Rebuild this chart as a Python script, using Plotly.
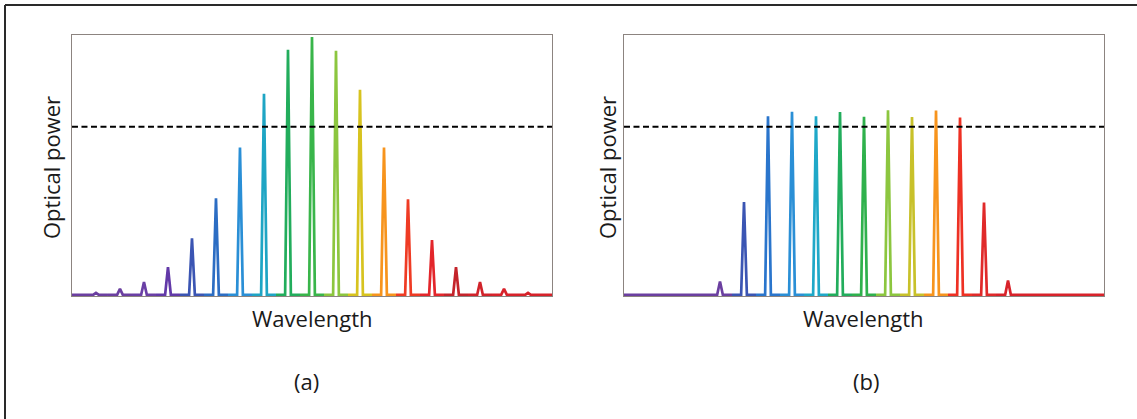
import plotly.graph_objects as go

# Channel index (grid slot) and peak optical power, relative units
left_channels = list(range(1, 20))
left_power = [0.008, 0.023, 0.05, 0.107, 0.218, 0.372, 0.567, 0.774, 0.943, 0.992,
              0.939, 0.789, 0.567, 0.368, 0.211, 0.107, 0.05, 0.023, 0.008]
left_colors = ["#6b3fa0", "#6b3fa0", "#6a3fa5", "#6239a8", "#3b55b3", "#2c6dc3",
               "#2a8fd6", "#1ea5c4", "#22ad5c", "#39b54a", "#8cc63f", "#d7c31f",
               "#f7941d", "#ef3b24", "#e3262b", "#c4242b", "#d1232a", "#d8222a",
               "#d6222a"]

right_channels = list(range(4, 17))
right_power = [0.052, 0.357, 0.687, 0.705, 0.687, 0.704, 0.685, 0.710, 0.684,
               0.709, 0.682, 0.355, 0.055]
right_colors = ["#6b3fa0", "#3b55b3", "#2a75cc", "#2a8fd6", "#1fa8c8", "#22ad5c",
                "#2fb14c", "#8cc63f", "#c8c12a", "#f7941d", "#ee3124", "#e02a2a",
                "#d8222a"]

threshold = 0.647
x_span = (0, 20)

FONT = "'Open Sans', Lato, Arial, sans-serif"
TXT = "#1a1a1a"
AXIS_COL = "#8c8480"
HALF_W = 0.12  # half base width of each spectral line, in channel units

fig = go.Figure()


def add_spectrum(channels, power, colors, xa, ya):
    n = len(channels)
    for i, (c, p, col) in enumerate(zip(channels, power, colors)):
        x0 = x_span[0] if i == 0 else c - 0.5
        x1 = x_span[1] if i == n - 1 else c + 0.5
        xs = [x0, c - HALF_W, c, c + HALF_W, x1]
        ys = [0, 0, p, 0, 0]
        fig.add_trace(go.Scatter(
            x=xs, y=ys, mode="lines", xaxis=xa, yaxis=ya,
            line=dict(color=col, width=2.7), hoverinfo="skip", showlegend=False))
    fig.add_trace(go.Scatter(
        x=list(x_span), y=[threshold, threshold], mode="lines", xaxis=xa, yaxis=ya,
        line=dict(color="black", width=2.2, dash="6px,3.5px"),
        hoverinfo="skip", showlegend=False))


add_spectrum(left_channels, left_power, left_colors, "x", "y")
add_spectrum(right_channels, right_power, right_colors, "x2", "y2")

ydom = [0.2924, 0.9165]
ax_common = dict(showgrid=False, zeroline=False, showticklabels=False, ticks="",
                 showline=True, linecolor=AXIS_COL, linewidth=1, mirror=True)
fig.update_layout(
    width=1137, height=419,
    margin=dict(l=0, r=0, t=0, b=0),
    paper_bgcolor="white", plot_bgcolor="white",
    xaxis=dict(domain=[0.0633, 0.4855], range=list(x_span), **ax_common),
    yaxis=dict(domain=ydom, range=[-0.006, 1.0], **ax_common),
    xaxis2=dict(domain=[0.5488, 0.971], range=list(x_span), anchor="y2", **ax_common),
    yaxis2=dict(domain=ydom, range=[-0.006, 1.0], anchor="x2", **ax_common),
)

# Outer frame (top and left edges)
fig.add_shape(type="line", xref="paper", yref="paper", x0=5 / 1137, x1=1.0,
              y0=1 - 5 / 419, y1=1 - 5 / 419, line=dict(color="#2a2a2a", width=2))
fig.add_shape(type="line", xref="paper", yref="paper", x0=5 / 1137, x1=5 / 1137,
              y0=0, y1=1 - 5 / 419, line=dict(color="#2a2a2a", width=2))

labels = [
    ("Wavelength", 312, 318, 0),
    ("(a)", 306, 381, 0),
    ("Optical power", 51, 168, -90),
    ("Wavelength", 864, 318, 0),
    ("(b)", 866, 381, 0),
    ("Optical power", 607, 168, -90),
]
for text, px, py, ang in labels:
    fig.add_annotation(text=text, x=px / 1137, y=1 - py / 419, xref="paper", yref="paper",
                       showarrow=False, textangle=ang, xanchor="center", yanchor="middle",
                       font=dict(family=FONT, size=22, color=TXT))

fig.write_html("out.html")
